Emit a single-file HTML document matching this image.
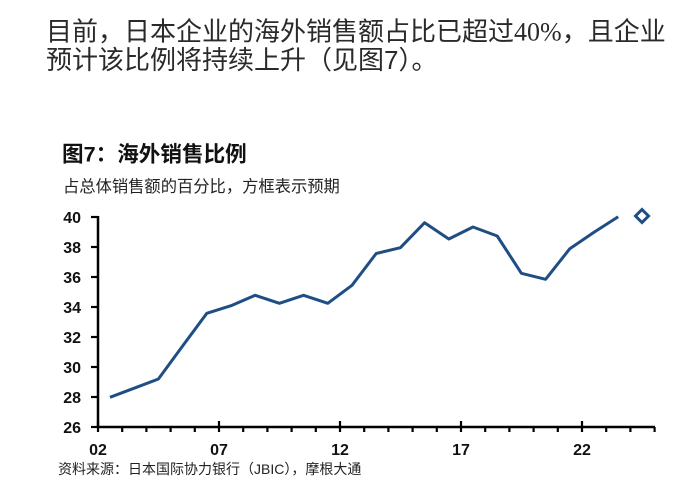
<!DOCTYPE html>
<html>
<head>
<meta charset="utf-8">
<style>
  html, body { margin:0; padding:0; background:#ffffff; }
  body { width:684px; height:493px; overflow:hidden; }
  svg { display:block; }
  .cjk { font-family:"Liberation Sans","Noto Sans CJK SC",sans-serif; }
  .num { font-family:"Liberation Sans",sans-serif; font-weight:bold; font-size:16px; fill:#111; }
</style>
</head>
<body>
<svg width="684" height="493" viewBox="0 0 684 493" xmlns="http://www.w3.org/2000/svg">
  <rect x="0" y="0" width="684" height="493" fill="#ffffff"/>

  <!-- Paragraph -->
  <text x="46" y="40.5" class="cjk" font-size="26" fill="#2a2a2a">目前，日本企业的海外销售额占比已超过<tspan font-family="Liberation Serif, serif">40%</tspan>，且企业</text>
  <text x="46" y="69" class="cjk" font-size="26" fill="#2a2a2a">预计该比例将持续上升（见图<tspan font-family="Liberation Sans, sans-serif">7</tspan>）。</text>

  <!-- Chart title -->
  <text x="62" y="161.5" class="cjk" font-size="21.6" font-weight="bold" fill="#111">图7：海外销售比例</text>
  <text x="63" y="192" class="cjk" font-size="16.3" fill="#222">占总体销售额的百分比，方框表示预期</text>

  <!-- Y axis -->
  <line x1="98" y1="216" x2="98" y2="428" stroke="#000" stroke-width="2.5"/>
  <g stroke="#000" stroke-width="2.2">
    <line x1="91" y1="217" x2="98" y2="217"/>
    <line x1="91" y1="247" x2="98" y2="247"/>
    <line x1="91" y1="277" x2="98" y2="277"/>
    <line x1="91" y1="307" x2="98" y2="307"/>
    <line x1="91" y1="337" x2="98" y2="337"/>
    <line x1="91" y1="367" x2="98" y2="367"/>
    <line x1="91" y1="397" x2="98" y2="397"/>
    <line x1="91" y1="427" x2="98" y2="427"/>
  </g>
  <g class="num" text-anchor="end">
    <text x="81" y="223">40</text>
    <text x="81" y="253">38</text>
    <text x="81" y="283">36</text>
    <text x="81" y="313">34</text>
    <text x="81" y="343">32</text>
    <text x="81" y="373">30</text>
    <text x="81" y="403">28</text>
    <text x="81" y="433">26</text>
  </g>

  <!-- X axis -->
  <line x1="97" y1="427" x2="655" y2="427" stroke="#000" stroke-width="2.5"/>
  <g stroke="#000" stroke-width="2.2">
    <line x1="122.2" y1="427" x2="122.2" y2="432"/>
    <line x1="146.4" y1="427" x2="146.4" y2="432"/>
    <line x1="170.6" y1="427" x2="170.6" y2="432"/>
    <line x1="194.8" y1="427" x2="194.8" y2="432"/>
    <line x1="243.2" y1="427" x2="243.2" y2="432"/>
    <line x1="267.4" y1="427" x2="267.4" y2="432"/>
    <line x1="291.6" y1="427" x2="291.6" y2="432"/>
    <line x1="315.8" y1="427" x2="315.8" y2="432"/>
    <line x1="364.2" y1="427" x2="364.2" y2="432"/>
    <line x1="388.4" y1="427" x2="388.4" y2="432"/>
    <line x1="412.6" y1="427" x2="412.6" y2="432"/>
    <line x1="436.8" y1="427" x2="436.8" y2="432"/>
    <line x1="485.2" y1="427" x2="485.2" y2="432"/>
    <line x1="509.4" y1="427" x2="509.4" y2="432"/>
    <line x1="533.6" y1="427" x2="533.6" y2="432"/>
    <line x1="557.8" y1="427" x2="557.8" y2="432"/>
    <line x1="606.2" y1="427" x2="606.2" y2="432"/>
    <line x1="630.4" y1="427" x2="630.4" y2="432"/>
    <line x1="654.6" y1="427" x2="654.6" y2="432"/>
    <!-- major -->
    <line x1="98" y1="421" x2="98" y2="432"/>
    <line x1="219" y1="421" x2="219" y2="432"/>
    <line x1="340" y1="421" x2="340" y2="432"/>
    <line x1="461" y1="421" x2="461" y2="432"/>
    <line x1="582" y1="421" x2="582" y2="432"/>
  </g>
  <g class="num" text-anchor="middle">
    <text x="98" y="455">02</text>
    <text x="219" y="455">07</text>
    <text x="340" y="455">12</text>
    <text x="461" y="455">17</text>
    <text x="582" y="455">22</text>
  </g>

  <!-- Series -->
  <polyline fill="none" stroke="#1f4e85" stroke-width="3" stroke-linejoin="round" stroke-linecap="butt"
    points="110,397.3 134.2,388.2 158.4,379 182.6,346 206.8,313.3 231,305.7 255.2,295.3 279.4,303.3 303.6,295.3 327.8,303.3 352,285.3 376.2,253.5 400.4,247.7 424.6,222.7 448.8,239 473,227 497.2,236 521.4,273.3 545.6,279.3 569.8,248.7 594,232.3 618.2,216.7"/>
  <!-- Forecast diamond -->
  <path d="M642 209.5 L648.5 216 L642 222.5 L635.5 216 Z" fill="#ffffff" stroke="#1f4e85" stroke-width="3" stroke-linejoin="miter"/>

  <!-- Source -->
  <text x="58" y="474" class="cjk" font-size="14" fill="#222">资料来源：日本国际协力银行（JBIC），摩根大通</text>
</svg>
</body>
</html>
